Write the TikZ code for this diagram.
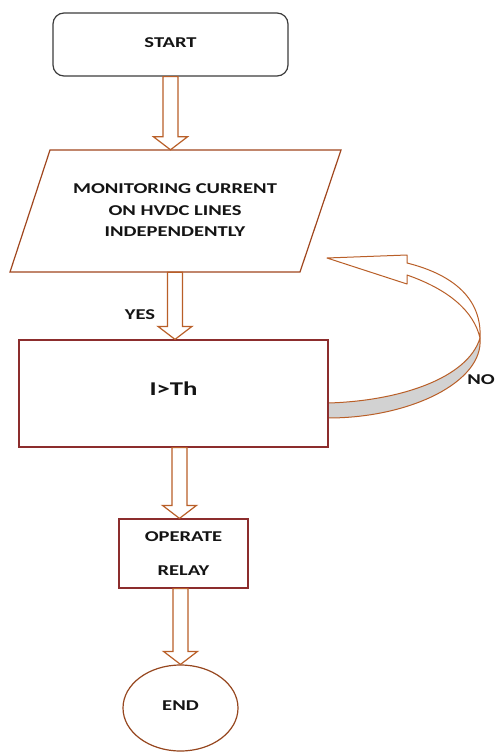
\documentclass[tikz,border=0pt]{standalone}
\usepackage{fontspec}
\setmainfont{Carlito}[FakeStretch=1.37]
\usetikzlibrary{shapes.geometric,calc}
\definecolor{boxred}{RGB}{140,45,45}
\definecolor{parabrown}{RGB}{160,70,30}
\definecolor{arrowcol}{RGB}{185,95,40}
\definecolor{startcol}{RGB}{60,60,60}
\definecolor{endcol}{RGB}{150,70,30}
\definecolor{bandgray}{RGB}{210,210,210}
\definecolor{txt}{RGB}{20,20,20}
\newcommand\blkarrow[2]{%
  \draw[barrow] let \p1=#1, \p2=#2 in
    (\x1-7.5,\y1) -- (\x1+7.5,\y1) -- (\x1+7.5,\y2+13) -- (\x1+17,\y2+13)
    -- (\x1,\y2) -- (\x1-17,\y2+13) -- (\x1-7.5,\y2+13) -- cycle;}
\begin{document}
\begin{tikzpicture}[x=1pt,y=-1pt,
  every node/.style={text=txt,font=\bfseries\fontsize{15}{21.5}\selectfont},
  barrow/.style={draw=arrowcol,fill=white,line width=1.2pt,line join=miter},
  startbox/.style={draw=startcol,fill=white,line width=1.2pt,rounded corners=11pt,
    minimum width=235pt,minimum height=63pt,inner sep=0pt},
  plainbox/.style={draw=boxred,fill=white,line width=1.2pt,inner sep=0pt},
  curvarrow/.style={draw=arrowcol,line width=1pt,line join=round}]
\useasboundingbox (0,0) rectangle (496,752);
\fill[white] (0,0) rectangle (496,752);

% start
\node[startbox] (start) at (170.5,44.5) {\raisebox{4pt}{START}};

% input parallelogram
\draw[draw=parabrown,fill=white,line width=1.2pt] (50,150) -- (341,150) -- (300,272) -- (10,272) -- cycle;
\node[align=center,minimum width=250pt,minimum height=122pt,inner sep=0pt] (input) at (175,211)
  {\raisebox{24pt}{\parbox{250pt}{\centering MONITORING CURRENT\\ON HVDC LINES\\INDEPENDENTLY}}};

% curved NO arrow
\coordinate (nbtop) at (328,403);
\coordinate (nbbot) at (328,418);
\filldraw[curvarrow,fill=bandgray] (nbtop) .. controls (400,401) and (468,378) .. (480,338)
  .. controls (484,382) and (410,418) .. (nbbot);
\filldraw[curvarrow,fill=white] (480,338) .. controls (482,300) and (455,275) .. (407,263)
  -- (407,255) -- (327,258) -- (407,284) -- (407,275)
  .. controls (450,290) and (474,312) .. (480,338) -- cycle;

% condition box
\node[plainbox,minimum width=309pt,minimum height=107pt] (cond) at (173.5,393.5)
  {\raisebox{10pt}{\fontsize{19.5}{24}\selectfont I>Th}};

% relay box
\node[plainbox,minimum width=129pt,minimum height=69pt,align=center] (relay) at (183.5,553.5)
  {OPERATE\\[12pt]RELAY};

% end ellipse
\node[ellipse,draw=endcol,fill=white,line width=1.2pt,minimum width=115pt,minimum height=86pt,inner sep=0pt] (end) at (180.5,708) {\raisebox{5pt}{END}};

% block arrows
\blkarrow{(start.south)}{(input.north)}
\blkarrow{(input.south)}{(cond.north)}
\blkarrow{($(cond.south)+(6,0)$)}{(relay.north)}
\blkarrow{($(relay.south)+(-3,0)$)}{(end.north)}

% labels
\node (yes) at (140,315) {YES};
\node[inner sep=0pt,anchor=east] (no) at (495,380) {NO};
\end{tikzpicture}
\end{document}
